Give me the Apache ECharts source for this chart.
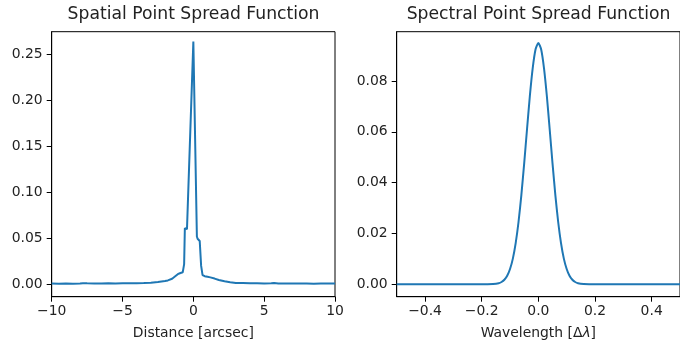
<!DOCTYPE html>
<html>
<head>
<meta charset="utf-8">
<script src="https://cdn.jsdelivr.net/npm/echarts@6/dist/echarts.min.js"></script>
<style>html,body{margin:0;padding:0;background:#fff}#c{width:680px;height:347px}</style>
</head>
<body>
<div id="c"></div>
<script>
// Spatial PSF
const spatialX = [-10, -9.5, -9, -8.5, -8, -7.8, -7.7, -7.5, -7, -6.5, -6, -5.5, -5, -4.5, -4, -3.5, -3, -2.5, -2, -1.8, -1.5, -1.3, -1.1, -0.95, -0.85, -0.75, -0.65, -0.6, -0.45, -0.35, 0, 0.25, 0.3, 0.45, 0.55, 0.65, 0.8, 1.0, 1.2, 1.5, 1.8, 2.2, 2.6, 3, 3.5, 4, 4.5, 5, 5.5, 5.7, 6, 6.5, 7, 7.5, 8, 8.5, 9, 9.5, 10];
const spatialY = [0.0008, 0.0007, 0.0008, 0.0007, 0.0009, 0.0012, 0.0020, 0.0010, 0.0008, 0.0009, 0.0010, 0.0009, 0.0010, 0.0011, 0.0012, 0.0013, 0.0016, 0.0025, 0.0035, 0.0042, 0.0060, 0.0085, 0.0110, 0.0120, 0.0110, 0.0130, 0.0220, 0.0610, 0.0600, 0.0600, 0.2640, 0.0520, 0.0495, 0.0470, 0.0200, 0.0100, 0.0088, 0.0082, 0.0075, 0.0062, 0.0047, 0.0032, 0.0022, 0.0015, 0.0013, 0.0011, 0.0010, 0.0009, 0.0010, 0.0013, 0.0009, 0.0008, 0.0009, 0.0008, 0.0008, 0.0007, 0.0008, 0.0008, 0.0008];
// Spectral PSF
const spectralX = [-0.5, -0.3, -0.2, -0.18, -0.16, -0.14, -0.13, -0.12, -0.11, -0.10, -0.09, -0.08, -0.07, -0.06, -0.05, -0.04, -0.03, -0.02, -0.01, 0, 0.01, 0.02, 0.03, 0.04, 0.05, 0.06, 0.07, 0.08, 0.09, 0.10, 0.11, 0.12, 0.13, 0.14, 0.16, 0.18, 0.2, 0.3, 0.5];
const spectralY = [0, 0, 0, 0.00001, 0.00008, 0.00042, 0.00088, 0.00176, 0.00333, 0.0060, 0.0101, 0.0162, 0.0245, 0.0351, 0.0476, 0.0610, 0.0741, 0.0850, 0.0924, 0.0950, 0.0924, 0.0850, 0.0741, 0.0610, 0.0476, 0.0351, 0.0245, 0.0162, 0.0101, 0.0060, 0.00333, 0.00176, 0.00088, 0.00042, 0.00008, 0.00001, 0, 0, 0];
// Ticks
const spatialXTicks = [-10, -5, 0, 5, 10];
const spatialYTicks = [0, 0.05, 0.10, 0.15, 0.20, 0.25];
const spectralXTicks = [-0.4, -0.2, 0, 0.2, 0.4];
const spectralYTicks = [0, 0.02, 0.04, 0.06, 0.08];

const FONT = 'DejaVu Sans';
const TXT = '#222';
const minus = s => s.replace('-', '\u2212');
const zip = (a, b) => a.map((v, i) => [v, b[i]]);

function xAxis(gi, min, max, ticks, dec, name) {
  return {
    type: 'value', gridIndex: gi, min, max,
    name, nameLocation: 'middle', nameGap: 30,
    nameTextStyle: { fontFamily: FONT, fontSize: 13.9, color: TXT, rich: { i: { fontFamily: FONT, fontSize: 13.9, fontStyle: 'italic', color: TXT } } },
    axisLine: { show: true, onZero: false, lineStyle: { color: '#000', width: 1 } },
    axisTick: { show: true, length: 5, customValues: ticks, lineStyle: { color: '#000', width: 1 } },
    axisLabel: { customValues: ticks, margin: 8, fontFamily: FONT, fontSize: 13.9, color: TXT, formatter: v => minus(v.toFixed(dec)) },
    splitLine: { show: false }
  };
}
function yAxis(gi, min, max, ticks, dec) {
  return {
    type: 'value', gridIndex: gi, min, max,
    axisLine: { show: true, onZero: false, lineStyle: { color: '#000', width: 1 } },
    axisTick: { show: true, length: 5, customValues: ticks, lineStyle: { color: '#000', width: 1 } },
    axisLabel: { customValues: ticks, margin: 9, fontFamily: FONT, fontSize: 13.9, color: TXT, formatter: v => minus(v.toFixed(dec)) },
    splitLine: { show: false }
  };
}

const chart = echarts.init(document.getElementById('c'), null, { renderer: 'canvas' });
chart.setOption({
  animation: false,
  backgroundColor: '#fff',
  title: [
    { text: 'Spatial Point Spread Function', left: 193.5, top: 6, textAlign: 'center', padding: 0, textStyle: { fontFamily: FONT, fontSize: 17.2, fontWeight: 'normal', color: TXT } },
    { text: 'Spectral Point Spread Function', left: 538.5, top: 6, textAlign: 'center', padding: 0, textStyle: { fontFamily: FONT, fontSize: 17.2, fontWeight: 'normal', color: TXT } }
  ],
  grid: [
    { left: 51.7, top: 31.7, width: 283.3, height: 265, show: true, borderColor: '#000', borderWidth: 1, backgroundColor: 'transparent' },
    { left: 396.7, top: 31.7, width: 283.3, height: 265, show: true, borderColor: '#000', borderWidth: 1, backgroundColor: 'transparent' }
  ],
  xAxis: [
    xAxis(0, -10, 10, spatialXTicks, 0, 'Distance [arcsec]'),
    xAxis(1, -0.5, 0.5, spectralXTicks, 1, 'Wavelength [Δ{i|λ}]')
  ],
  yAxis: [
    yAxis(0, -0.0135, 0.2746, spatialYTicks, 2),
    yAxis(1, -0.0049, 0.0994, spectralYTicks, 2)
  ],
  series: [
    { type: 'line', xAxisIndex: 0, yAxisIndex: 0, data: zip(spatialX, spatialY), showSymbol: false, lineStyle: { color: '#1f77b4', width: 2 }, clip: true },
    { type: 'line', xAxisIndex: 1, yAxisIndex: 1, data: zip(spectralX, spectralY), smooth: 0.2, showSymbol: false, lineStyle: { color: '#1f77b4', width: 2 }, clip: true }
  ]
});
</script>
</body>
</html>
